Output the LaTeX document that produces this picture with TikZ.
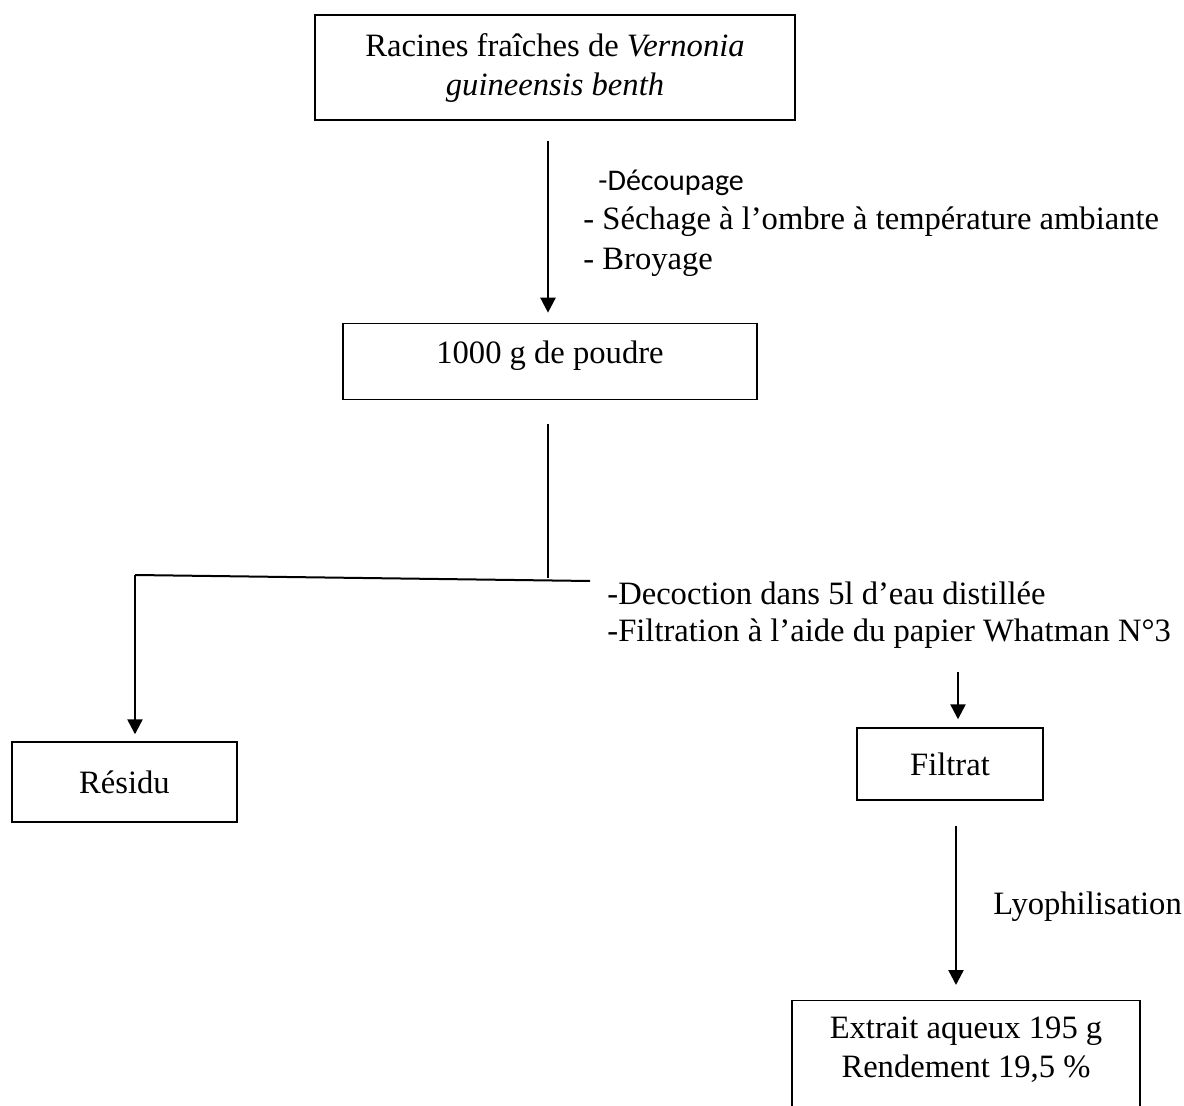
\documentclass[tikz,border=0pt]{standalone}
\usepackage{fontspec}
\setmainfont{Liberation Serif}
\newfontfamily\carlito{Carlito}
\usetikzlibrary{arrows.meta,positioning}

\begin{document}
\begin{tikzpicture}[x=0.5pt, y=-0.5pt,
    every node/.style={font=\fontsize{16.3}{19.5}\selectfont},
    stepbox/.style={rectangle, draw, line width=0.7pt, align=center},
    note/.style={anchor=west, inner sep=0pt},
    arrow/.style={-{Triangle[length=7.5pt,width=7.5pt]}, line width=1.2pt}]
    \clip[use as bounding box] (0,0) rectangle (1184,1106);

    \node (root) [stepbox, minimum width=240pt, minimum height=52.5pt] at (555,67.5) {Racines fraîches de \textit{Vernonia}\\\textit{guineensis benth}};
    \node (poudre) [stepbox, below=101pt of root, xshift=-2.5pt, minimum width=207pt, minimum height=38pt] {\raisebox{0pt}[\height][\dimexpr\depth+6pt\relax]{1000 g de poudre}};
    \node (residu) [stepbox, minimum width=112.5pt, minimum height=40pt] at (124.5,782) {Résidu};
    \node (filtrat) [stepbox, minimum width=93pt, minimum height=36pt] at (950,764) {Filtrat};
    \node (extrait) [stepbox, anchor=north, minimum width=174pt] at (966,1000) {\raisebox{0pt}[\dimexpr\height+5pt\relax][\depth]{Extrait aqueux 195 g}\\\raisebox{0pt}[\height][30pt]{Rendement 19,5 \%}};

    % etapes
    \node (decoupe) [note, font=\carlito\fontsize{15}{18}\selectfont] at (598,183) {-Découpage};
    \node (sechage) [note] at (583,222) {- Séchage à l’ombre à température ambiante};
    \node (broyage) [note] at (583,262) {- Broyage};
    \node (decoct) [note] at (607,593) {-Decoction dans 5l d’eau distillée};
    \node (filtre) [note] at (607,634) {-Filtration à l’aide du papier Whatman N°3};
    \node (lyo) [note] at (993,907) {Lyophilisation};

    \coordinate (split) at (548,578);
    \coordinate (lcorner) at (135,575);
    \coordinate (rend) at (590,581);
    \coordinate (ftop) at (958,672);

    \draw[arrow, shorten <=10pt, shorten >=5pt] (root.south -| split) -- (poudre.north -| split);
    \draw[line width=0.6pt, shorten <=12pt] (poudre.south -| split) -- (split);
    \draw[line width=1pt] (lcorner) -- (rend);
    \draw[arrow, shorten >=3.5pt] (lcorner) -- (lcorner |- residu.north);
    \draw[arrow, shorten >=4pt] (ftop) -- (ftop |- filtrat.north);
    \draw[arrow, shorten <=12.5pt, shorten >=7.5pt] ([xshift=3pt]filtrat.south) -- ([xshift=-5pt]extrait.north);
\end{tikzpicture}
\end{document}
